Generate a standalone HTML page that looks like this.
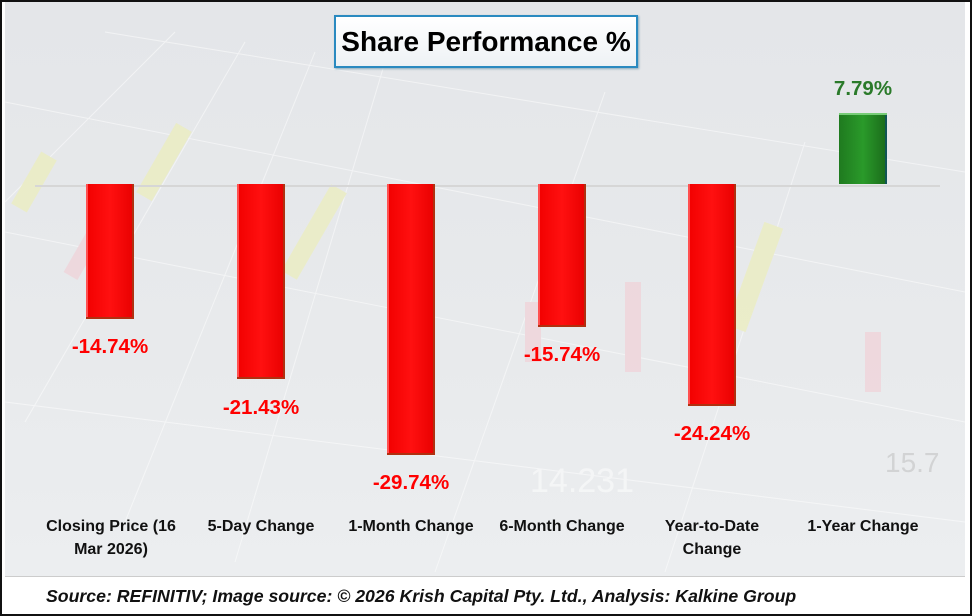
<!DOCTYPE html>
<html><head><style>
body{margin:0;width:972px;height:616px;overflow:hidden;background:#fff;font-family:"Liberation Sans",sans-serif}
.frame{position:absolute;left:0;top:0;width:968px;height:612px;border:2px solid #111;background:#fff}
.plot{position:absolute;left:5px;top:2px;width:960px;height:574px;background:linear-gradient(180deg,#e4e6e9 0%,#e8eaec 60%,#eceef0 100%);overflow:hidden;border-bottom:1px solid #ccc}
.title{position:absolute;left:334px;top:15px;width:300px;height:49px;border:2px solid #2a8ac0;background:linear-gradient(#fff,#eef2f5);font-weight:bold;font-size:28px;text-align:center;line-height:50px;color:#000;box-shadow:1px 1px 2px #8ab}
.zero{position:absolute;left:30px;width:905px;top:183px;height:2px;background:#d6d6d6}
.bar{position:absolute;width:48px;background:linear-gradient(90deg,#f20000,#ff1010 50%,#e80000);box-shadow:inset -2px -2px 0 #b03010,inset 2px 0 0 #ff5050}
.bar.g{background:linear-gradient(90deg,#1f7a1f,#2a9a2a 50%,#1a6a1a);box-shadow:inset 0 2px 0 #7c7,inset -2px 0 0 #155}
.lbl{position:absolute;width:140px;text-align:center;font-weight:bold;font-size:20.5px;color:#f00}
.cat{position:absolute;width:150px;text-align:center;font-weight:bold;font-size:16px;color:#111;line-height:23px}
.src{position:absolute;left:46px;top:586px;font-style:italic;font-weight:bold;font-size:17.7px;color:#111}
</style></head><body>
<div class="frame"></div>
<div class="plot">
<svg width="960" height="574" style="position:absolute;left:0;top:0;opacity:.5">
<g stroke="#fff" stroke-width="1" fill="none">
<path d="M100 30 L960 170 M0 100 L960 290 M0 230 L960 420 M0 400 L960 520 M170 30 L0 200 M240 40 L20 420 M310 50 L120 520 M380 60 L230 560 M600 90 L430 570 M800 140 L660 570"/>
</g>
<g fill="#eef0a8"><rect x="20" y="150" width="18" height="60" transform="rotate(30 29 180)"/><rect x="150" y="120" width="18" height="80" transform="rotate(30 159 160)"/><rect x="300" y="180" width="18" height="100" transform="rotate(30 309 230)"/><rect x="740" y="220" width="20" height="110" transform="rotate(20 750 275)"/></g>
<g fill="#f4c8d0"><rect x="80" y="190" width="16" height="90" transform="rotate(30 88 235)"/><rect x="520" y="300" width="16" height="60"/><rect x="620" y="280" width="16" height="90"/><rect x="860" y="330" width="16" height="60"/></g>
<text x="525" y="490" font-size="34" fill="#fff" font-family="Liberation Sans">14.231</text>
<text x="880" y="470" font-size="28" fill="#bbb" font-family="Liberation Sans">15.7</text>
</svg>
<div class="zero"></div>
</div>
<div class="title">Share Performance %</div>
<div class="bar" style="left:86px;top:184px;height:135px"></div>
<div class="bar" style="left:237px;top:184px;height:195px"></div>
<div class="bar" style="left:387px;top:184px;height:271px"></div>
<div class="bar" style="left:538px;top:184px;height:143px"></div>
<div class="bar" style="left:688px;top:184px;height:222px"></div>
<div class="bar g" style="left:839px;top:113px;height:71px"></div>
<div class="lbl" style="left:40px;top:335px">-14.74%</div>
<div class="lbl" style="left:191px;top:396px">-21.43%</div>
<div class="lbl" style="left:341px;top:471px">-29.74%</div>
<div class="lbl" style="left:492px;top:343px">-15.74%</div>
<div class="lbl" style="left:642px;top:422px">-24.24%</div>
<div class="lbl" style="left:793px;top:77px;color:#2a7a2a">7.79%</div>
<div class="cat" style="left:36px;top:515px">Closing Price (16<br>Mar 2026)</div>
<div class="cat" style="left:186px;top:515px">5-Day Change</div>
<div class="cat" style="left:336px;top:515px">1-Month Change</div>
<div class="cat" style="left:487px;top:515px">6-Month Change</div>
<div class="cat" style="left:637px;top:515px">Year-to-Date<br>Change</div>
<div class="cat" style="left:788px;top:515px">1-Year Change</div>
<div class="src">Source: REFINITIV; Image source: © 2026 Krish Capital Pty. Ltd., Analysis: Kalkine Group</div>
</body></html>
